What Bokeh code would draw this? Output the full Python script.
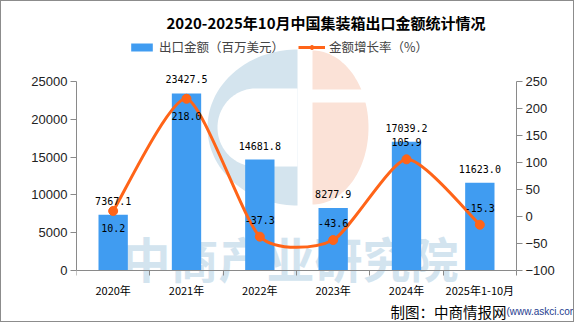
import numpy as np
from bokeh.plotting import figure
from bokeh.models import (Range1d, LinearAxis, FixedTicker, Legend, LegendItem,
                          ColumnDataSource)
from bokeh.core.properties import value
from bokeh.embed import file_html
from bokeh.resources import INLINE

# ---------------- data ----------------
categories = ["2020年", "2021年", "2022年", "2023年", "2024年", "2025年1-10月"]
export_value = [7367.1, 23427.5, 14681.8, 8277.9, 17039.2, 11623.0]   # 百万美元
growth_rate = [10.2, 218.0, -37.3, -43.6, 105.9, -15.3]               # %
left_ticks = [0, 5000, 10000, 15000, 20000, 25000]
right_ticks = [-100, -50, 0, 50, 100, 150, 200, 250]
rate_label_side = [1, 1, -1, -1, -1, -1]   # 1 = below the point, -1 = above

# ---------------- styles / layout (page pixels) ----------------
BAR = "#409cf1"
LINE = "#ff6418"
AXIS = "#8a8a8a"
CJK = "Noto Sans CJK SC"
W, H = 574, 322
AX_L, AX_R, AX_T, AX_B = 76, 516, 81, 270     # axes box
F_TOP, F_RIGHT, F_BOT = 33, 575, 323          # drawing frame

n = len(categories)
xc = [i + 0.5 for i in range(n)]
lmax, rmin, rmax = left_ticks[-1], right_ticks[0], right_ticks[-1]
ux = n / (AX_R - AX_L)
uy = lmax / (AX_B - AX_T)
ur = (rmax - rmin) / (AX_B - AX_T)

p = figure(width=W, height=H,
           x_range=Range1d(0, (F_RIGHT - AX_L) * ux),
           y_range=Range1d(-(F_BOT - AX_B) * uy, (AX_B - F_TOP) * uy),
           output_backend="svg", toolbar_location=None,
           min_border_left=AX_L - 1, min_border_right=0,
           min_border_top=F_TOP - 1, min_border_bottom=0)
p.styles = {"border": "1px solid #8c8c8c"}
p.extra_y_ranges = {"pct": Range1d(rmin - (F_BOT - AX_B) * ur, rmin + (AX_B - F_TOP) * ur),
                    "sy": Range1d(F_BOT, F_TOP)}
p.extra_x_ranges = {"sx": Range1d(AX_L, F_RIGHT)}
p.grid.visible = False
p.outline_line_color = None

# title
p.title.text = "2020-2025年10月中国集装箱出口金额统计情况"
p.title.align = "center"
p.title.offset = 288 - (AX_L + F_RIGHT) / 2
p.title.text_font = CJK
p.title.text_font_size = "15px"
p.title.text_font_style = "bold"
p.title.text_color = "black"
p.title.standoff = 2

# ---------------- watermark (decoration, page-pixel coordinates) ----------------
t = np.linspace(np.pi / 2, 3 * np.pi / 2, 80)
p.patch(297 + 90 * np.cos(t), 127 + 78 * np.sin(t), fill_color="#d4e4ee", line_color=None,
        x_range_name="sx", y_range_name="sy", level="image")
p.patch(np.r_[255 + 38 * np.cos(t), 297, 297], np.r_[127 + 39 * np.sin(t), 88, 166],
        fill_color="white", line_color=None, x_range_name="sx", y_range_name="sy", level="image")
t2 = np.linspace(-np.pi / 2, np.pi / 2, 80)
p.patch(312 + 56 * np.cos(t2), 127 + 77 * np.sin(t2), fill_color="#fbe2d7", line_color=None,
        x_range_name="sx", y_range_name="sy", level="image")
p.quad(left=[310], right=[375], top=[89], bottom=[102], fill_color="white", line_color=None,
       x_range_name="sx", y_range_name="sy", level="image")
p.text(x=[290], y=[256], text=["中商产业研究院"], x_range_name="sx", y_range_name="sy",
       text_align="center", text_baseline="middle", text_font=value(CJK),
       text_font_size="48px", text_font_style="bold", text_color="#d3e4ef", level="image")

# ---------------- bars ----------------
src = ColumnDataSource(dict(x=xc, v=export_value, r=growth_rate,
                            vl=[f"{v:.1f}" for v in export_value],
                            rl=[f"{r:.1f}" for r in growth_rate],
                            off=[17 * s for s in rate_label_side]))
bars = p.vbar(x="x", top="v", width=0.4, source=src, fill_color=BAR, line_color=None)

# ---------------- smooth line (bezier through the data points) ----------------
pts = list(zip(xc, growth_rate))
k = 0.11
x0, y0, x1, y1, cx0, cy0, cx1, cy1 = [], [], [], [], [], [], [], []
for i in range(n - 1):
    pa = np.array(pts[max(i - 1, 0)]); pb = np.array(pts[i])
    pc = np.array(pts[i + 1]); pd = np.array(pts[min(i + 2, n - 1)])
    c0 = pb + (pc - pa) * k
    c1 = pc - (pd - pb) * k
    x0.append(pb[0]); y0.append(pb[1]); x1.append(pc[0]); y1.append(pc[1])
    cx0.append(c0[0]); cy0.append(c0[1]); cx1.append(c1[0]); cy1.append(c1[1])
p.bezier(x0=x0, y0=y0, x1=x1, y1=y1, cx0=cx0, cy0=cy0, cx1=cx1, cy1=cy1,
         line_color=LINE, line_width=3, y_range_name="pct")
pts_r = p.scatter(x="x", y="r", source=src, size=9, fill_color=LINE, line_color=LINE,
                  y_range_name="pct")
proxy = p.line(x=[0.5, 1.5], y=[float("nan"), float("nan")], line_color=LINE, line_width=3)

# ---------------- value labels ----------------
p.text(x="x", y="v", text="vl", source=src, text_align="center", text_baseline="bottom",
       y_offset=-10, text_font=value("DejaVu Sans Mono"), text_font_size="10px",
       text_color="black")
p.text(x="x", y="r", text="rl", source=src, text_align="center", text_baseline="middle",
       y_offset="off", text_font=value("DejaVu Sans Mono"), text_font_size="10px",
       text_color="black", y_range_name="pct")

# ---------------- axes ----------------
xa = p.xaxis[0]
xa.fixed_location = 0
xa.bounds = (0, n)
xa.ticker = FixedTicker(ticks=xc, minor_ticks=list(range(n + 1)))
xa.major_label_overrides = {x: c for x, c in zip(xc, categories)}
xa.major_tick_out = 0
xa.major_tick_in = 0
xa.minor_tick_out = 5
xa.minor_tick_in = 0
xa.major_label_standoff = 6
xa.major_label_text_font = CJK
xa.major_label_text_font_size = "11px"
xa.major_label_text_color = "black"
xa.axis_line_color = AXIS
xa.minor_tick_line_color = AXIS

ya = p.yaxis[0]
ya.ticker = FixedTicker(ticks=left_ticks)
ya.bounds = (0, lmax)
ya.minor_tick_line_color = None
ya.major_tick_out = 6
ya.major_tick_in = 0
ya.major_label_standoff = 3
ya.major_label_text_font = "Liberation Sans"
ya.major_label_text_font_size = "13px"
ya.major_label_text_color = "#222222"
ya.axis_line_color = AXIS
ya.major_tick_line_color = AXIS

ra = LinearAxis(y_range_name="pct", ticker=FixedTicker(ticks=right_ticks), bounds=(rmin, rmax),
                fixed_location=n)
ra.minor_tick_line_color = None
ra.major_tick_out = 6
ra.major_tick_in = 0
ra.major_label_standoff = 3
ra.major_label_text_font = "Liberation Sans"
ra.major_label_text_font_size = "13px"
ra.major_label_text_color = "#222222"
ra.axis_line_color = AXIS
ra.major_tick_line_color = AXIS
p.add_layout(ra, "right")

# ---------------- legend ----------------
legend = Legend(items=[LegendItem(label="出口金额（百万美元）", renderers=[bars]),
                       LegendItem(label="金额增长率（%）", renderers=[proxy, pts_r])],
                orientation="horizontal", location=(52, 267), padding=0, margin=0,
                spacing=14, glyph_width=27, glyph_height=10, label_standoff=4,
                label_text_font=CJK, label_text_font_size="12.5px",
                label_height=12, background_fill_alpha=0, border_line_alpha=0)
p.add_layout(legend, "center")

# ---------------- footer ----------------
p.text(x=[506], y=[311], text=["制图：中商情报网"], x_range_name="sx", y_range_name="sy",
       text_align="right", text_baseline="middle",
       text_font=value(CJK), text_font_size="14.5px", text_color="black")
p.text(x=[506], y=[311], text=["(www.askci.com)"], x_range_name="sx", y_range_name="sy",
       text_align="left", text_baseline="middle",
       text_font=value("Liberation Sans"), text_font_size="10px", text_color="#1f3d8f")

open("out.html", "w").write(file_html(p, INLINE))
